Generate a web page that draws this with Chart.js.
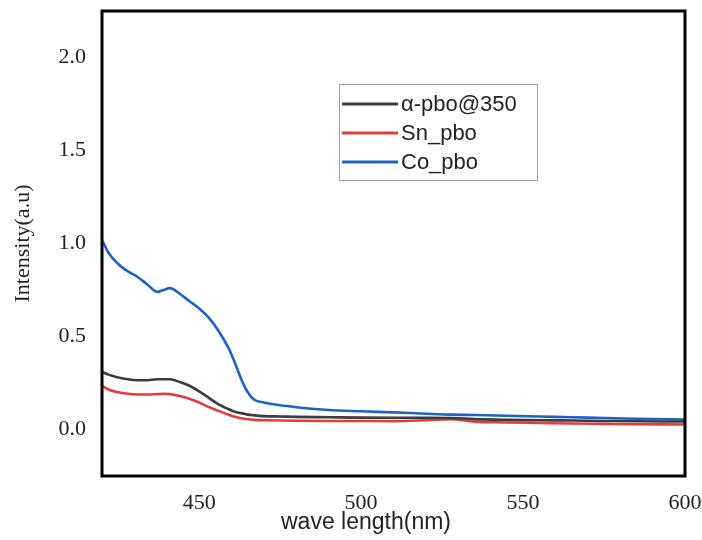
<!DOCTYPE html>
<html>
<head>
<meta charset="utf-8">
<script src="https://cdn.jsdelivr.net/npm/chart.js@4/dist/chart.umd.min.js"></script>
<style>
  html, body { margin: 0; padding: 0; background: #fff; }
  #wrap { width: 702px; height: 540px; }
</style>
</head>
<body>
<div id="wrap"><canvas id="chart"></canvas></div>
<script>
// ── Data ─────────────────────────────────────────────────────────────────
const wavelengths = [420, 422, 425, 428, 431, 434, 437, 439, 441, 444, 447, 450, 453, 456, 459, 461,
                     463, 465, 467, 470, 475, 480, 490, 500, 510, 520, 528, 535, 545, 555, 565, 575, 585, 600];

const alphaPbo = [0.31, 0.295, 0.28, 0.27, 0.265, 0.265, 0.27, 0.27, 0.27, 0.255, 0.235, 0.205, 0.17, 0.135, 0.11, 0.095,
                  0.088, 0.08, 0.076, 0.072, 0.07, 0.068, 0.066, 0.064, 0.063, 0.063, 0.062, 0.056, 0.052, 0.05, 0.048, 0.046, 0.044, 0.043];

const snPbo = [0.235, 0.215, 0.2, 0.192, 0.188, 0.188, 0.19, 0.192, 0.19, 0.18, 0.165, 0.145, 0.12, 0.1, 0.08, 0.068,
               0.06, 0.055, 0.052, 0.05, 0.048, 0.047, 0.046, 0.046, 0.045, 0.05, 0.056, 0.042, 0.038, 0.035, 0.032, 0.03, 0.028, 0.027];

const coPbo = [1.02, 0.95, 0.89, 0.85, 0.82, 0.78, 0.74, 0.75, 0.76, 0.73, 0.69, 0.65, 0.6, 0.53, 0.44, 0.36,
               0.27, 0.2, 0.16, 0.145, 0.13, 0.12, 0.105, 0.098, 0.092, 0.085, 0.08, 0.078, 0.074, 0.07, 0.066, 0.062, 0.058, 0.054];

const seriesLabels = ['\u03b1-pbo@350', 'Sn_pbo', 'Co_pbo'];
const xTicks = [450, 500, 550, 600];
const yTicks = [0.0, 0.5, 1.0, 1.5, 2.0];

const COLORS = {
  black: '#3c3c3c',
  red:   '#e23c3f',
  blue:  '#1f62c4',
};

const SERIF = "'Liberation Serif', 'DejaVu Serif', serif";
const SANS  = "'Liberation Sans', Arial, sans-serif";

function toPoints(ys) {
  return wavelengths.map((x, i) => ({ x, y: ys[i] }));
}

function noEdgePadding(s) {
  s.paddingTop = 0;
  s.paddingBottom = 0;
  s.paddingLeft = 0;
  s.paddingRight = 0;
}

// ── Frame, x title and legend box drawn on top ───────────────────────────
const decorPlugin = {
  id: 'decor',
  afterDraw(chart) {
    const { ctx, chartArea: a } = chart;
    ctx.save();
    ctx.strokeStyle = '#000';
    ctx.lineWidth = 3;
    ctx.strokeRect(a.left, a.top, a.right - a.left, a.bottom - a.top);

    // x axis title (sits left of centre in the original)
    ctx.fillStyle = '#222';
    ctx.font = `23px ${SANS}`;
    ctx.textAlign = 'center';
    ctx.textBaseline = 'middle';
    ctx.fillText('wave length(nm)', 366, 523);

    // legend
    const bx = 339, by = 84, bw = 198, bh = 96;
    ctx.fillStyle = '#fff';
    ctx.fillRect(bx, by, bw, bh);
    ctx.strokeStyle = '#a0a0a0';
    ctx.lineWidth = 1;
    ctx.strokeRect(bx + 0.5, by + 0.5, bw, bh);
    const rows = [104, 133, 162];
    ctx.font = `22px ${SANS}`;
    ctx.textAlign = 'left';
    chart.data.datasets.forEach((ds, i) => {
      ctx.strokeStyle = ds.borderColor;
      ctx.lineWidth = 3;
      ctx.beginPath();
      ctx.moveTo(342, rows[i]);
      ctx.lineTo(398, rows[i]);
      ctx.stroke();
      ctx.fillStyle = '#222';
      ctx.fillText(ds.label, 401, rows[i] + 1);
    });
    ctx.restore();
  },
};

function lineSet(label, ys, color) {
  return {
    label,
    data: toPoints(ys),
    borderColor: color,
    backgroundColor: color,
    borderWidth: 2.6,
    pointRadius: 0,
    cubicInterpolationMode: 'monotone',
  };
}

new Chart(document.getElementById('chart'), {
  type: 'line',
  data: {
    datasets: [
      lineSet(seriesLabels[0], alphaPbo, COLORS.black),
      lineSet(seriesLabels[1], snPbo,    COLORS.red),
      lineSet(seriesLabels[2], coPbo,    COLORS.blue),
    ],
  },
  options: {
    responsive: true,
    maintainAspectRatio: false,
    animation: false,
    layout: { padding: { top: 11, right: 17, left: 0, bottom: 0 } },
    plugins: {
      legend: { display: false },
      tooltip: { enabled: false },
    },
    scales: {
      x: {
        type: 'linear',
        min: 420,
        max: 600,
        grid: { display: false, drawTicks: false },
        border: { display: false },
        afterBuildTicks: s => { s.ticks = xTicks.map(v => ({ value: v })); },
        afterFit: s => { s.height = 64; noEdgePadding(s); },
        ticks: {
          color: '#222',
          padding: 14,
          maxRotation: 0,
          font: { family: SERIF, size: 22 },
        },
      },
      y: {
        type: 'linear',
        min: -0.25,
        max: 2.25,
        grid: { display: false, drawTicks: false },
        border: { display: false },
        afterBuildTicks: s => { s.ticks = yTicks.map(v => ({ value: v })); },
        afterFit: s => { s.width = 102; noEdgePadding(s); },
        title: {
          display: true,
          text: 'Intensity(a.u)',
          color: '#222',
          font: { family: SERIF, size: 22 },
          padding: { top: 10, bottom: 0 },
        },
        ticks: {
          color: '#222',
          padding: 16,
          font: { family: SERIF, size: 22 },
          callback: v => v.toFixed(1),
        },
      },
    },
  },
  plugins: [decorPlugin],
});
</script>
</body>
</html>
